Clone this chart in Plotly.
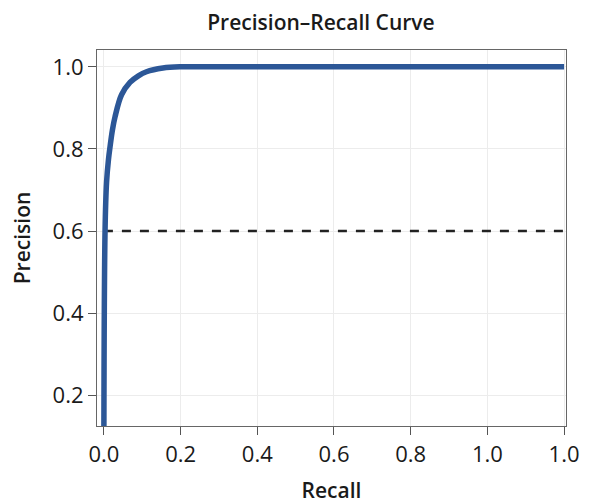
import plotly.graph_objects as go

recall = [0.0, 0.003, 0.007, 0.012, 0.016, 0.022, 0.029, 0.046, 0.068, 0.09, 0.111, 0.154, 0.198, 0.3, 0.5, 0.8, 1.0, 1.2]
precision = [0.12, 0.6, 0.72, 0.775, 0.805, 0.845, 0.878, 0.932, 0.962, 0.978, 0.988, 0.997, 1.0, 1.0, 1.0, 1.0, 1.0, 1.0]
threshold_x = [0.0, 1.2]
threshold_y = [0.6, 0.6]
x_tickvals = [0.0, 0.2, 0.4, 0.6, 0.8, 1.0, 1.2]
x_ticktext = ["0.0", "0.2", "0.4", "0.6", "0.8", "1.0", "1.0"]
y_tickvals = [0.2, 0.4, 0.6, 0.8, 1.0]
y_ticktext = ["0.2", "0.4", "0.6", "0.8", "1.0"]

font = "Open Sans"
fig = go.Figure()
fig.add_trace(go.Scatter(x=threshold_x, y=threshold_y, mode="lines",
                         line=dict(color="#222222", width=2.5, dash="dash"), showlegend=False))
fig.add_trace(go.Scatter(x=recall, y=precision, mode="lines", line_shape="spline",
                         line=dict(color="#2c5797", width=5.5), showlegend=False))

fig.update_layout(
    width=586, height=496,
    margin=dict(l=89, r=28, t=42, b=78),
    paper_bgcolor="white", plot_bgcolor="white",
    title=dict(text="Precision–Recall Curve", x=0.534, xanchor="center", y=0.971, yanchor="middle",
               font=dict(family=font, size=21, color="#1a1a1a", weight=600)),
    font=dict(family=font, color="#1a1a1a"),
)
fig.update_xaxes(range=[-0.018, 1.205], tickvals=x_tickvals, ticktext=x_ticktext, automargin=False,
                 tickfont=dict(size=22), ticks="outside", ticklen=8, tickcolor="#555",
                 showgrid=True, gridcolor="#ececec", zeroline=False,
                 showline=True, linecolor="#666", linewidth=1.2, mirror=True,
                 title=dict(text="Recall", font=dict(size=21, weight=600), standoff=18))
fig.update_yaxes(range=[0.125, 1.041], tickvals=y_tickvals, ticktext=y_ticktext, automargin=False,
                 tickfont=dict(size=22), ticks="outside", ticklen=8, tickcolor="#555",
                 showgrid=True, gridcolor="#ececec", zeroline=False,
                 showline=True, linecolor="#666", linewidth=1.2, mirror=True,
                 title=dict(text="Precision", font=dict(size=21, weight=600), standoff=20))

fig.write_html("out.html")
